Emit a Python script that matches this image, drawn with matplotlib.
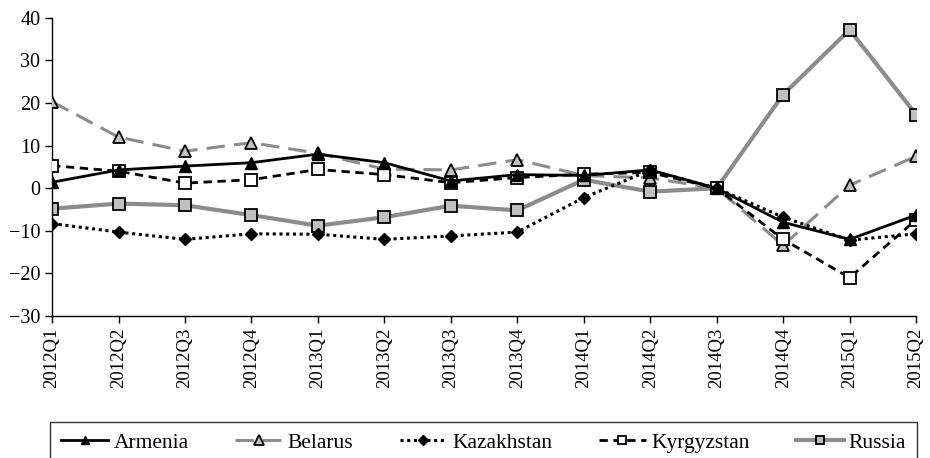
import matplotlib
matplotlib.use('Agg')
import matplotlib.pyplot as plt

plt.rcParams['font.family'] = ['Liberation Serif', 'DejaVu Serif']
plt.rcParams['axes.unicode_minus'] = True

# quarters on the x axis
quarters = ['2012Q1', '2012Q2', '2012Q3', '2012Q4',
            '2013Q1', '2013Q2', '2013Q3', '2013Q4',
            '2014Q1', '2014Q2', '2014Q3', '2014Q4',
            '2015Q1', '2015Q2']

# values
armenia = [1.4, 4.3, 5.2, 6.0, 8.0, 6.0, 1.7, 3.2, 3.0, 4.3, 0.0, -8.0, -12.0, -6.3]
belarus = [20.3, 12.0, 8.7, 10.7, 8.2, 4.5, 4.3, 6.7, 3.0, 2.4, 0.0, -13.4, 0.7, 7.5]
kazakhstan = [-8.3, -10.3, -12.0, -10.7, -10.8, -12.0, -11.2, -10.3, -2.2, 4.2, 0.0, -6.8, -12.2, -10.7]
kyrgyzstan = [5.3, 4.0, 1.2, 2.0, 4.4, 3.2, 1.3, 2.5, 3.3, 3.7, 0.0, -12.0, -21.0, -7.4]
russia = [-4.8, -3.6, -4.0, -6.3, -8.8, -6.8, -4.1, -5.2, 2.0, -0.8, 0.0, 22.0, 37.2, 17.3]

fig = plt.figure(figsize=(9.3, 4.58), dpi=100)
ax = fig.add_axes([0.056, 0.31, 0.929, 0.651])

x = range(len(quarters))

ax.plot(x, russia, color='#8c8c8c', linewidth=3, marker='s', markersize=8,
        markerfacecolor='#c0c0c0', markeredgecolor='black', markeredgewidth=1.3,
        label='Russia', zorder=2)
ax.plot(x, belarus, color='#8c8c8c', linewidth=2.2, linestyle=(0, (6, 3)), marker='^',
        markersize=9, markerfacecolor='#c0c0c0', markeredgecolor='black',
        markeredgewidth=1.3, label='Belarus', zorder=3)
ax.plot(x, kyrgyzstan, color='black', linewidth=2, linestyle=(0, (3, 2)), marker='s',
        markersize=8, markerfacecolor='white', markeredgecolor='black',
        markeredgewidth=1.3, label='Kyrgyzstan', zorder=4)
ax.plot(x, kazakhstan, color='black', linewidth=2.2, linestyle=(0, (1, 1.2)), marker='D',
        markersize=6.5, markerfacecolor='black', markeredgecolor='black',
        label='Kazakhstan', zorder=5)
ax.plot(x, armenia, color='black', linewidth=2, marker='^', markersize=8,
        markerfacecolor='black', markeredgecolor='black', label='Armenia', zorder=6)

ax.set_xlim(0, len(quarters) - 1)
ax.set_ylim(-30, 40)
ax.set_yticks(range(-30, 41, 10))
ax.set_xticks(list(x))
ax.set_xticklabels(quarters, rotation=90)
ax.tick_params(axis='both', direction='out', length=5, width=1, labelsize=14.5)
ax.tick_params(axis='x', labelsize=13.5)
for side in ['top', 'right']:
    ax.spines[side].set_visible(False)
for side in ['left', 'bottom']:
    ax.spines[side].set_linewidth(1)

handles, labels = ax.get_legend_handles_labels()
order = ['Armenia', 'Belarus', 'Kazakhstan', 'Kyrgyzstan', 'Russia']
hl = dict(zip(labels, handles))
leg = fig.legend([hl[k] for k in order], order, loc='upper center',
                 bbox_to_anchor=(0.52, 0.079), ncol=5, markerscale=0.75,
                 fontsize=15.5, frameon=True, fancybox=False, edgecolor='black',
                 handlelength=2.2, handletextpad=0.25, columnspacing=2.15,
                 borderaxespad=0, borderpad=0.5)
leg.get_frame().set_linewidth(1)

fig.savefig('out.png', dpi=100)
